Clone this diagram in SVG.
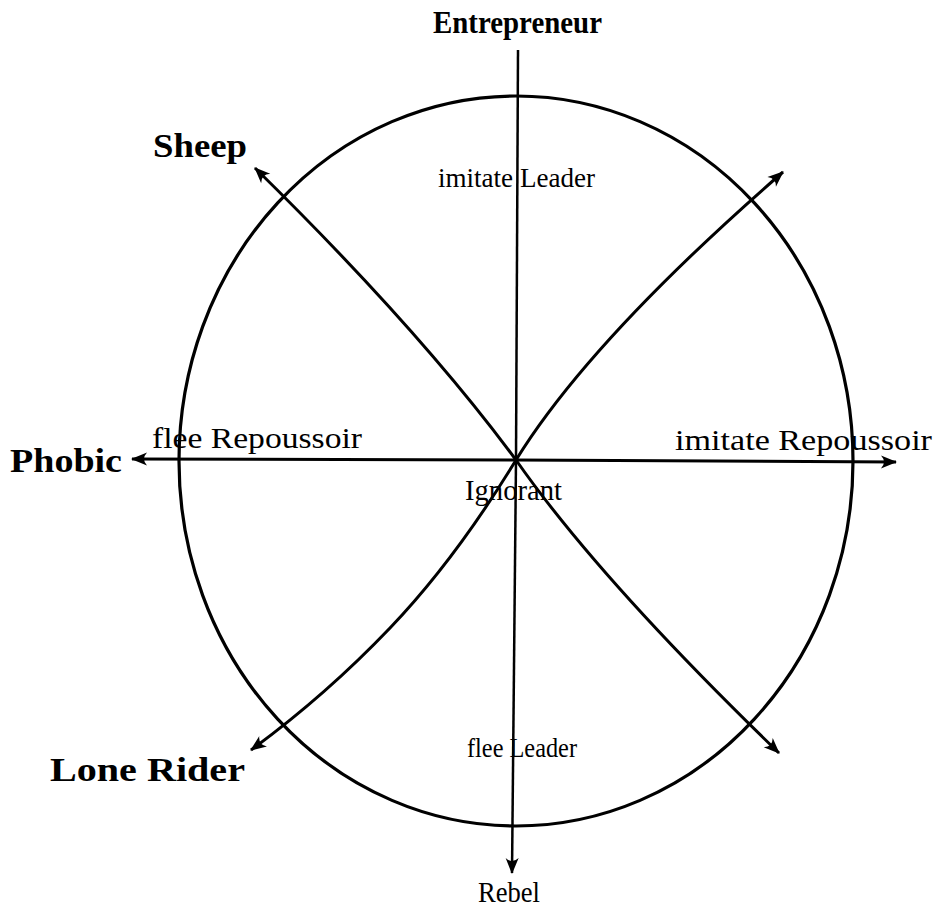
<svg xmlns="http://www.w3.org/2000/svg" width="937" height="908" viewBox="0 0 937 908">
<style>
.ln{fill:none;stroke:#000;stroke-width:3;stroke-linecap:butt}
.ax{fill:none;stroke:#000;stroke-width:2.5}
.ring{fill:none;stroke:#000;stroke-width:3.2}
.bl{font-family:"Liberation Serif","DejaVu Serif",serif;font-weight:bold;fill:#000}
.rg{font-family:"Liberation Serif","DejaVu Serif",serif;fill:#000}
</style>
<defs>
<marker id="ah" viewBox="-16 -8 18 16" refX="0" refY="0" markerWidth="18" markerHeight="16" orient="auto" markerUnits="userSpaceOnUse">
<path d="M1,0 L-15,-6.5 Q-9,0 -15,6.5 Z" fill="#000"/>
</marker>
</defs>
<rect width="937" height="908" fill="#fff"/>
<g id="circle">
<ellipse class="ring" cx="516" cy="461" rx="337" ry="365"/>
</g>
<g id="connectors">
<path class="ax" d="M518,50 L516,460"/>
<path class="ax" d="M516,460 L512,873" marker-end="url(#ah)"/>
<path class="ln" d="M516,460 L132,459" marker-end="url(#ah)"/>
<path class="ln" d="M516,460 L896,462" marker-end="url(#ah)"/>
<path class="ln" d="M516,460 Q420,330 255,168" marker-end="url(#ah)"/>
<path class="ln" d="M516,460 Q590,340 783,172" marker-end="url(#ah)"/>
<path class="ln" d="M516,460 Q455,560 390,628 T251,750" marker-end="url(#ah)"/>
<path class="ln" d="M516,460 Q600,580 779,753" marker-end="url(#ah)"/>
</g>
<g id="entrepreneur"><text class="bl" x="433" y="33" font-size="31" textLength="169" lengthAdjust="spacingAndGlyphs">Entrepreneur</text></g>
<g id="sheep"><text class="bl" x="153" y="157" font-size="33" textLength="94" lengthAdjust="spacingAndGlyphs">Sheep</text></g>
<g id="phobic"><text class="bl" x="10" y="472" font-size="33" textLength="112" lengthAdjust="spacingAndGlyphs">Phobic</text></g>
<g id="lone-rider"><text class="bl" x="50" y="781" font-size="33" textLength="195" lengthAdjust="spacingAndGlyphs">Lone Rider</text></g>
<g id="rebel"><text class="rg" x="478" y="902" font-size="29" textLength="62" lengthAdjust="spacingAndGlyphs">Rebel</text></g>
<g id="ignorant"><text class="rg" x="465" y="500" font-size="30" textLength="97" lengthAdjust="spacingAndGlyphs">Ignorant</text></g>
<g id="labels">
<text class="rg" x="438" y="187" font-size="27" textLength="157" lengthAdjust="spacingAndGlyphs">imitate Leader</text>
<text class="rg" x="152" y="448" font-size="30" textLength="210" lengthAdjust="spacingAndGlyphs">flee Repoussoir</text>
<text class="rg" x="675" y="450" font-size="30" textLength="257" lengthAdjust="spacingAndGlyphs">imitate Repoussoir</text>
<text class="rg" x="467" y="757" font-size="27" textLength="110" lengthAdjust="spacingAndGlyphs">flee Leader</text>
</g>
</svg>
